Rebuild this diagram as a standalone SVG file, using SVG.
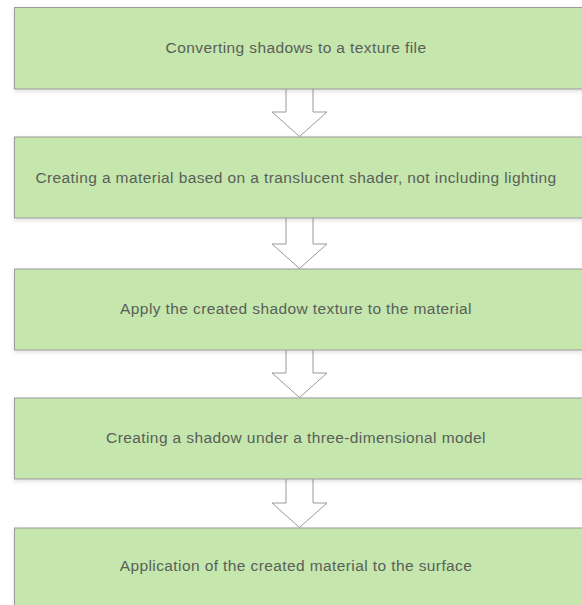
<svg xmlns="http://www.w3.org/2000/svg" width="582" height="605" viewBox="0 0 582 605">
  <defs>
    <filter id="shadow" x="-5%" y="-20%" width="110%" height="150%">
      <feDropShadow dx="0" dy="2" stdDeviation="2" flood-color="#000" flood-opacity="0.12"/>
    </filter>
    <style>
      .box { fill: #c5e6ad; stroke: #9a9a9a; stroke-width: 1; filter: url(#shadow); }
      .label { font-family: "Liberation Sans", Arial, sans-serif; font-size: 15.5px; letter-spacing: 0.4px; fill: #5a5f58; text-anchor: middle; }
      .arrow { fill: #ffffff; stroke: #9a9a9a; stroke-width: 1; stroke-linejoin: miter; }
    </style>
  </defs>

  <g id="connectors">
    <path class="arrow" d="M286,89 L286,112 L272,112 L299.5,136.5 L327,112 L313,112 L313,89"/>
    <path class="arrow" d="M286,218 L286,244 L272,244 L299.5,268.5 L327,244 L313,244 L313,218"/>
    <path class="arrow" d="M286,350 L286,373 L272,373 L299.5,397.5 L327,373 L313,373 L313,350"/>
    <path class="arrow" d="M286,479 L286,503 L272,503 L299.5,527.5 L327,503 L313,503 L313,479"/>
  </g>

  <g id="step1">
    <rect class="box" x="14.5" y="7.5" width="572" height="81.5"/>
    <text class="label" x="296" y="52.5">Converting shadows to a texture file</text>
  </g>
  <g id="step2">
    <rect class="box" x="14.5" y="137" width="572" height="81"/>
    <text class="label" x="296" y="182.5">Creating a material based on a translucent shader, not including lighting</text>
  </g>
  <g id="step3">
    <rect class="box" x="14.5" y="269" width="572" height="81"/>
    <text class="label" x="296" y="313.5">Apply the created shadow texture to the material</text>
  </g>
  <g id="step4">
    <rect class="box" x="14.5" y="398" width="572" height="81"/>
    <text class="label" x="296" y="442.5">Creating a shadow under a three-dimensional model</text>
  </g>
  <g id="step5">
    <rect class="box" x="14.5" y="528" width="572" height="90"/>
    <text class="label" x="296" y="570.5">Application of the created material to the surface</text>
  </g>
</svg>
